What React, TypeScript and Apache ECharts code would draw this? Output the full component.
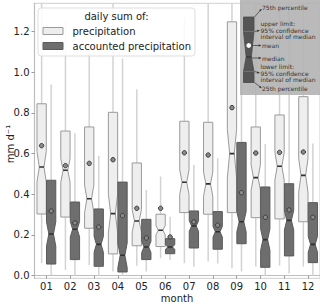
import React, { useEffect, useRef } from "react";
import * as echarts from "echarts";

const months = ["01", "02", "03", "04", "05", "06", "07", "08", "09", "10", "11", "12"];
const yTicks = [0, 0.2, 0.4, 0.6, 0.8, 1.0, 1.2];

// precipitation
const precQ1 = [0.303, 0.288, 0.233, 0.107, 0.147, 0.143, 0.31, 0.302, 0.31, 0.285, 0.279, 0.265];
const precQ3 = [0.845, 0.711, 0.731, 0.803, 0.554, 0.302, 0.759, 0.754, 1.248, 0.731, 0.79, 0.88];
const precMedian = [0.534, 0.518, 0.378, 0.305, 0.269, 0.223, 0.459, 0.451, 0.6, 0.482, 0.538, 0.493];
const precNotchLo = [0.46, 0.46, 0.31, 0.21, 0.215, 0.2, 0.4, 0.39, 0.48, 0.42, 0.47, 0.41];
const precNotchHi = [0.61, 0.575, 0.445, 0.4, 0.325, 0.246, 0.52, 0.51, 0.72, 0.545, 0.605, 0.575];
const precMean = [0.639, 0.541, 0.552, 0.57, 0.331, 0.331, 0.604, 0.593, 0.826, 0.603, 0.606, 0.608];
const precWhisLo = [0.062, 0.028, 0.053, 0.02, 0.049, 0.085, 0.061, 0.069, 0.036, 0.045, 0.05, 0.045];
const precWhisHi = [1.5, 1.25, 1.109, 1.5, 0.916, 0.487, 1.265, 1.5, 1.5, 1.5, 1.5, 1.5];

// accounted precipitation
const accQ1 = [0.057, 0.079, 0.046, 0.018, 0.079, 0.108, 0.136, 0.13, 0.157, 0.041, 0.097, 0.064];
const accQ3 = [0.469, 0.362, 0.328, 0.46, 0.277, 0.182, 0.318, 0.315, 0.655, 0.436, 0.452, 0.359];
const accMedian = [0.205, 0.228, 0.154, 0.1, 0.141, 0.141, 0.244, 0.216, 0.265, 0.177, 0.272, 0.154];
const accNotchLo = [0.145, 0.19, 0.115, 0.04, 0.113, 0.13, 0.218, 0.19, 0.215, 0.125, 0.225, 0.115];
const accNotchHi = [0.265, 0.266, 0.193, 0.16, 0.169, 0.152, 0.27, 0.242, 0.315, 0.23, 0.32, 0.193];
const accMean = [0.318, 0.259, 0.239, 0.295, 0.185, 0.19, 0.264, 0.248, 0.408, 0.287, 0.323, 0.287];
const accWhisLo = [0.003, 0.0, 0.0, 0.0, 0.02, 0.077, 0.044, 0.06, 0.02, 0.0, 0.01, 0.0];
const accWhisHi = [0.94, 0.7, 0.59, 1.068, 0.421, 0.29, 0.544, 0.577, 1.5, 0.647, 1.5, 0.65];

const FONT = "DejaVu Sans";

function rows(q1: number[], nlo: number[], med: number[], nhi: number[], q3: number[], mean: number[], wlo: number[], whi: number[]) {
  return months.map((_, i) => [i, q1[i], nlo[i], med[i], nhi[i], q3[i], mean[i], wlo[i], whi[i]]);
}

function makeRender(offset: number, fill: string, stroke: string, whiskerColor: string) {
  return (params: any, api: any) => {
    const i = api.value(0);
    const band = api.size([1, 0])[0];
    const c = api.coord([i, 0])[0] + offset * band;
    const w = band * 0.39;
    const y = (v: number) => api.coord([i, v])[1];
    const q1 = y(api.value(1));
    const nlo = y(api.value(2));
    const med = y(api.value(3));
    const nhi = y(api.value(4));
    const q3 = y(api.value(5));
    const mean = y(api.value(6));
    const wlo = y(api.value(7));
    const whi = y(api.value(8));
    const L = c - w / 2, R = c + w / 2, cL = c - w / 4, cR = c + w / 4;
    return {
      type: "group",
      children: [
        { type: "line", shape: { x1: c, y1: q1, x2: c, y2: wlo }, style: { stroke: whiskerColor, lineWidth: 1.5 } },
        { type: "line", shape: { x1: c, y1: q3, x2: c, y2: whi }, style: { stroke: whiskerColor, lineWidth: 1.5 } },
        {
          type: "polygon",
          shape: { points: [[L, q1], [R, q1], [R, nlo], [cR, med], [R, nhi], [R, q3], [L, q3], [L, nhi], [cL, med], [L, nlo]] },
          style: { fill, stroke, lineWidth: 1 },
        },
        { type: "line", shape: { x1: cL, y1: med, x2: cR, y2: med }, style: { stroke: "#2e2e2e", lineWidth: 1.6 } },
        { type: "circle", shape: { cx: c, cy: mean, r: 2.2 }, style: { fill: "#8a8a8a", stroke: "#3a3a3a", lineWidth: 1 } },
      ],
    };
  };
}

function arrow(x1: number, y1: number, x2: number, y2: number) {
  const ang = Math.atan2(y2 - y1, x2 - x1);
  const s = 2.6;
  const p1 = [x2 - s * Math.cos(ang - 0.45), y2 - s * Math.sin(ang - 0.45)];
  const p2 = [x2 - s * Math.cos(ang + 0.45), y2 - s * Math.sin(ang + 0.45)];
  return [
    { type: "line", shape: { x1, y1, x2, y2 }, style: { stroke: "#333", lineWidth: 0.7 }, z: 101 },
    { type: "polygon", shape: { points: [[x2, y2], p1, p2] }, style: { fill: "#333" }, z: 101 },
  ];
}

function insetText(text: string, x: number, y: number) {
  return {
    type: "text",
    x,
    y,
    z: 101,
    style: { text, fontFamily: FONT, fontSize: 6, fill: "#333", verticalAlign: "middle", align: "left" },
  };
}

export default function App() {
  const ref = useRef<HTMLDivElement>(null);
  useEffect(() => {
    const chart = echarts.init(ref.current!, null, { renderer: "svg" });
    const iconL = 243.5, iconR = 254, iconC = (243.5 + 254) / 2;
    const iconW = iconR - iconL;
    const option: any = {
      animation: false,
      backgroundColor: "#ffffff",
      grid: {
        left: 34.5, right: 0, top: 3.3, bottom: 25.7,
        outerBoundsMode: "none", containLabel: false,
        show: true, borderColor: "#cfcfcf", borderWidth: 1, backgroundColor: "transparent",
      },
      xAxis: {
        type: "category",
        data: months,
        axisLine: { show: true, lineStyle: { color: "#bdbdbd", width: 1.2 } },
        axisTick: { show: true, alignWithLabel: true, length: 3, lineStyle: { color: "#999" } },
        axisLabel: { fontFamily: FONT, fontSize: 10, color: "#222", margin: 3, lineHeight: 10 },
        splitLine: { show: false },
      },
      yAxis: {
        type: "value",
        min: -0.013,
        max: 1.339,
        axisLine: { show: true, lineStyle: { color: "#bdbdbd", width: 1.2 } },
        axisTick: { show: true, length: 3, lineStyle: { color: "#999" }, customValues: yTicks },
        axisLabel: { fontFamily: FONT, fontSize: 10, color: "#222", margin: 5, customValues: yTicks, formatter: (v: number) => v.toFixed(1) },
        splitLine: { show: false },
      },
      series: [
        {
          type: "custom",
          name: "precipitation",
          clip: true,
          renderItem: makeRender(-0.2, "#eeeeee", "#9a9a9a", "#d3d3d3"),
          encode: { x: 0, y: [1, 5] },
          data: rows(precQ1, precNotchLo, precMedian, precNotchHi, precQ3, precMean, precWhisLo, precWhisHi),
        },
        {
          type: "custom",
          name: "accounted precipitation",
          clip: true,
          renderItem: makeRender(0.2, "#6e6e6e", "#5a5a5a", "#d3d3d3"),
          encode: { x: 0, y: [1, 5] },
          data: rows(accQ1, accNotchLo, accMedian, accNotchHi, accQ3, accMean, accWhisLo, accWhisHi),
        },
      ],
      graphic: [
        // axis names
        { type: "text", x: 177, y: 298.5, style: { text: "month", fontFamily: FONT, fontSize: 10, lineHeight: 10, fill: "#222", align: "center", verticalAlign: "middle" } },
        { type: "text", x: 10, y: 144, rotation: Math.PI / 2, style: { text: "mm d⁻¹", fontFamily: FONT, fontSize: 10, fill: "#222", align: "center", verticalAlign: "middle" } },
        // legend
        { type: "rect", shape: { x: 38, y: 8, width: 157, height: 48, r: 3 }, style: { fill: "rgba(255,255,255,0.85)", stroke: "#dddddd", lineWidth: 1 }, z: 100 },
        { type: "text", x: 116.5, y: 16.5, z: 101, style: { text: "daily sum of:", fontFamily: FONT, fontSize: 10, fill: "#222", align: "center", verticalAlign: "middle" } },
        { type: "rect", shape: { x: 43, y: 27.5, width: 20, height: 7 }, style: { fill: "#eeeeee", stroke: "#9a9a9a", lineWidth: 1 }, z: 101 },
        { type: "text", x: 72.5, y: 31.5, z: 101, style: { text: "precipitation", fontFamily: FONT, fontSize: 10, fill: "#222", verticalAlign: "middle" } },
        { type: "rect", shape: { x: 43, y: 42.5, width: 20, height: 7 }, style: { fill: "#6e6e6e", stroke: "#5a5a5a", lineWidth: 1 }, z: 101 },
        { type: "text", x: 72.5, y: 46.5, z: 101, style: { text: "accounted precipitation", fontFamily: FONT, fontSize: 10, fill: "#222", verticalAlign: "middle" } },
        // inset explanation
        { type: "rect", shape: { x: 240, y: 0, width: 81, height: 95 }, style: { fill: "rgba(178,178,178,0.9)" }, z: 100 },
        {
          type: "polygon",
          z: 101,
          shape: {
            points: [
              [iconL, 82.5], [iconR, 82.5], [iconR, 71.5], [iconC + iconW / 4, 57], [iconR, 31.5], [iconR, 17],
              [iconL, 17], [iconL, 31.5], [iconC - iconW / 4, 57], [iconL, 71.5],
            ],
          },
          style: { fill: "#555555", stroke: "#4a4a4a", lineWidth: 0.8 },
        },
        { type: "line", z: 102, shape: { x1: iconL, y1: 31.5, x2: iconR, y2: 31.5 }, style: { stroke: "#777", lineWidth: 0.8 } },
        { type: "line", z: 102, shape: { x1: iconL, y1: 71.5, x2: iconR, y2: 71.5 }, style: { stroke: "#777", lineWidth: 0.8 } },
        { type: "line", z: 102, shape: { x1: iconC - iconW / 4, y1: 57, x2: iconC + iconW / 4, y2: 57 }, style: { stroke: "#333", lineWidth: 1.2 } },
        { type: "circle", z: 102, shape: { cx: iconC, cy: 45.5, r: 2.4 }, style: { fill: "#ffffff" } },
        ...arrow(254.5, 17, 261.5, 9),
        ...arrow(254.5, 31.5, 259.5, 30.5),
        ...arrow(252, 45.5, 261, 45.5),
        ...arrow(252, 58, 261, 58),
        ...arrow(254.5, 71.5, 259.5, 73),
        ...arrow(254.5, 82.5, 261.5, 88),
        insetText("75th percentile", 262, 7.5),
        insetText("upper limit:", 260.5, 23.5),
        insetText("95% confidence", 260.5, 30),
        insetText("interval of median", 260.5, 36.5),
        insetText("mean", 262, 45.5),
        insetText("median", 262, 58),
        insetText("lower limit:", 260.5, 66.5),
        insetText("95% confidence", 260.5, 73),
        insetText("interval of median", 260.5, 79.5),
        insetText("25th percentile", 262, 88.5),
      ],
    };
    chart.setOption(option);
    return () => chart.dispose();
  }, []);
  return <div ref={ref} style={{ width: 320, height: 304, position: "absolute", left: 0, top: 0 }} />;
}
